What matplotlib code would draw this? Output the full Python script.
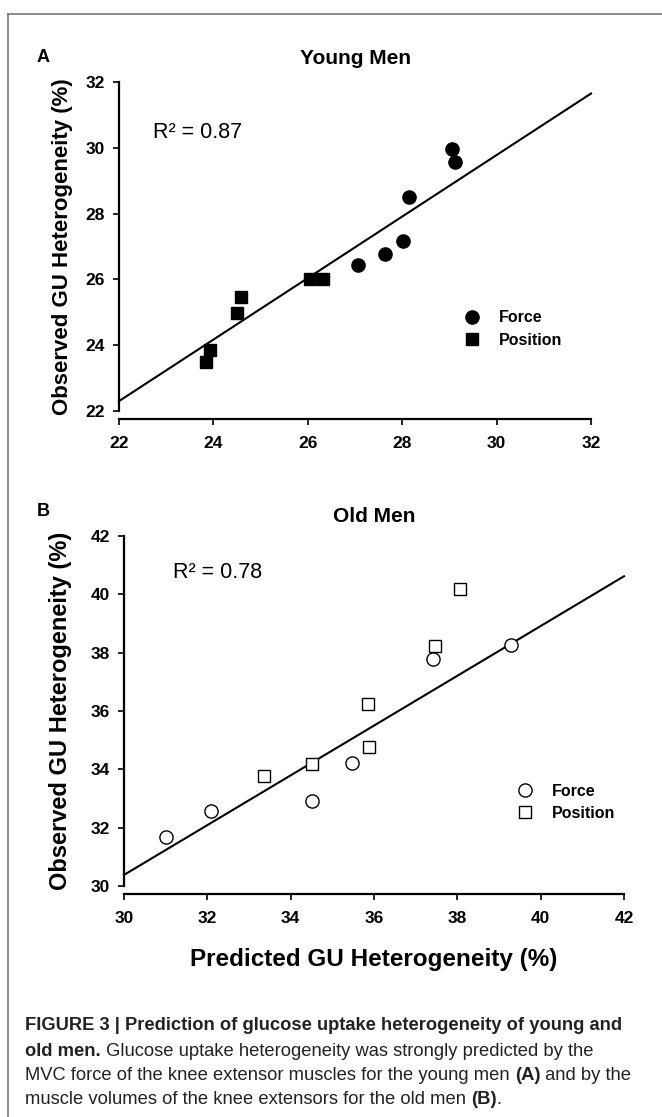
import matplotlib
matplotlib.use("Agg")
import matplotlib.pyplot as plt
from matplotlib.lines import Line2D

plt.rcParams['font.family'] = ['Liberation Sans Narrow', 'Liberation Sans', 'DejaVu Sans']

# panel A - young men
young_force_x = [29.05, 29.12, 28.15, 28.02, 27.64, 27.07]
young_force_y = [29.95, 29.58, 28.50, 27.18, 26.76, 26.44]
young_pos_x = [26.05, 26.33, 24.58, 24.51, 23.92, 23.85]
young_pos_y = [26.00, 26.00, 25.47, 24.97, 23.85, 23.50]
young_fit_x = [22, 32]
young_fit_y = [22.30, 31.65]

# panel B - old men
old_force_x = [31.01, 32.08, 34.50, 35.48, 37.42, 39.28]
old_force_y = [31.69, 32.58, 32.92, 34.23, 37.77, 38.28]
old_pos_x = [33.36, 34.50, 35.88, 35.86, 37.46, 38.07]
old_pos_y = [33.78, 34.18, 34.77, 36.23, 38.22, 40.20]
old_fit_x = [30, 42]
old_fit_y = [30.38, 40.62]

W, H = 662, 1117
fig = plt.figure(figsize=(W / 100, H / 100), dpi=100)

def fx(px):
    return px / W

def fy(py):
    return 1 - py / H

# frame around the figure
fig.add_artist(Line2D([fx(8), fx(8)], [fy(14), fy(1117)], color='#777777', lw=1.2))
fig.add_artist(Line2D([fx(8), fx(662)], [fy(14), fy(14)], color='#777777', lw=1.2))

def style_axes(ax, lo, hi, step, ylab_size, ylab_x):
    for s in ['top', 'right']:
        ax.spines[s].set_visible(False)
    ax.spines['left'].set_linewidth(1.6)
    ax.spines['bottom'].set_linewidth(1.6)
    ax.spines['bottom'].set_position(('outward', 6))
    ax.set_xlim(lo, hi)
    ax.set_ylim(lo, hi)
    ticks = list(range(lo, hi + 1, step))
    ax.set_xticks(ticks)
    ax.set_yticks(ticks)
    ax.tick_params(axis='x', direction='out', length=4, width=1.2, pad=8, labelsize=12.5)
    ax.tick_params(axis='y', direction='out', length=4, width=1.2, pad=6, labelsize=12.5)
    for lab in ax.get_xticklabels() + ax.get_yticklabels():
        lab.set_fontweight('bold')
    ax.set_ylabel('Observed GU Heterogeneity (%)', fontsize=ylab_size, fontweight='bold',
                  family=['Liberation Sans', 'DejaVu Sans'])
    ax.yaxis.set_label_coords(ylab_x, 0.5)

# ---- panel A
axA = fig.add_axes([fx(119), fy(411), fx(591) - fx(119), fy(82) - fy(411)])
axA.plot(young_fit_x, young_fit_y, color='black', lw=1.5, clip_on=False)
axA.plot(young_force_x, young_force_y, 'o', color='black', ms=9.5, clip_on=False)
axA.plot(young_pos_x, young_pos_y, 's', color='black', ms=8.5, clip_on=False)
style_axes(axA, 22, 32, 2, 16, -0.097)
axA.text(0.072, 0.845, 'R² = 0.87', transform=axA.transAxes, fontsize=15.5, va='center',
         family=['Liberation Sans', 'DejaVu Sans'])
hA = [Line2D([], [], marker='o', ls='', color='black', ms=9.5),
      Line2D([], [], marker='s', ls='', color='black', ms=8.5)]
axA.legend(hA, ['Force', 'Position'], loc='upper left', bbox_to_anchor=(0.713, 0.33),
           frameon=False, prop={'weight': 'bold', 'size': 11.5}, handletextpad=1.2,
           labelspacing=0.45, borderpad=0, handlelength=1.0)

fig.text(fx(43), fy(58), 'A', fontsize=13, fontweight='bold', va='center', ha='center')
fig.text(fx(355), fy(58), 'Young Men', fontsize=15, fontweight='bold', va='center', ha='center')

# ---- panel B
axB = fig.add_axes([fx(124), fy(886), fx(624) - fx(124), fy(536) - fy(886)])
axB.plot(old_fit_x, old_fit_y, color='black', lw=1.5, clip_on=False)
axB.plot(old_force_x, old_force_y, 'o', mfc='white', mec='black', mew=1.0, ms=9.5, clip_on=False)
axB.plot(old_pos_x, old_pos_y, 's', mfc='white', mec='black', mew=1.0, ms=8.5, clip_on=False)
style_axes(axB, 30, 42, 2, 17, -0.104)
axB.text(0.098, 0.897, 'R² = 0.78', transform=axB.transAxes, fontsize=15.5, va='center',
         family=['Liberation Sans', 'DejaVu Sans'])
hB = [Line2D([], [], marker='o', ls='', mfc='white', mec='black', mew=1.0, ms=9.5),
      Line2D([], [], marker='s', ls='', mfc='white', mec='black', mew=1.0, ms=8.5)]
axB.legend(hB, ['Force', 'Position'], loc='upper left', bbox_to_anchor=(0.77, 0.315),
           frameon=False, prop={'weight': 'bold', 'size': 11.5}, handletextpad=1.2,
           labelspacing=0.45, borderpad=0, handlelength=1.0)
axB.set_xlabel('Predicted GU Heterogeneity (%)', fontsize=17.5, fontweight='bold',
               family=['Liberation Sans', 'DejaVu Sans'], labelpad=16)

fig.text(fx(43), fy(512), 'B', fontsize=13, fontweight='bold', va='center', ha='center')
fig.text(fx(374), fy(516), 'Old Men', fontsize=15, fontweight='bold', va='center', ha='center')

# ---- caption, line by line with bold/regular pieces
caption = [
    [('FIGURE 3 | Prediction of glucose uptake heterogeneity of young and', 'bold')],
    [('old men.', 'bold'), (' Glucose uptake heterogeneity was strongly predicted by the', 'normal')],
    [('MVC force of the knee extensor muscles for the young men ', 'normal'), ('(A)', 'bold'),
     (' and by the', 'normal')],
    [('muscle volumes of the knee extensors for the old men ', 'normal'), ('(B)', 'bold'),
     ('.', 'normal')],
]
cap_y = [1026, 1051, 1076, 1100]
renderer = fig.canvas.get_renderer()
for line, py in zip(caption, cap_y):
    x = fx(25)
    for txt, wt in line:
        t = fig.text(x, fy(py), txt, fontsize=13.2, fontweight=wt, va='center', ha='left',
                     color='#222222')
        bb = t.get_window_extent(renderer=renderer)
        x = bb.x1 / fig.bbox.width

fig.savefig('out.png', dpi=100)
